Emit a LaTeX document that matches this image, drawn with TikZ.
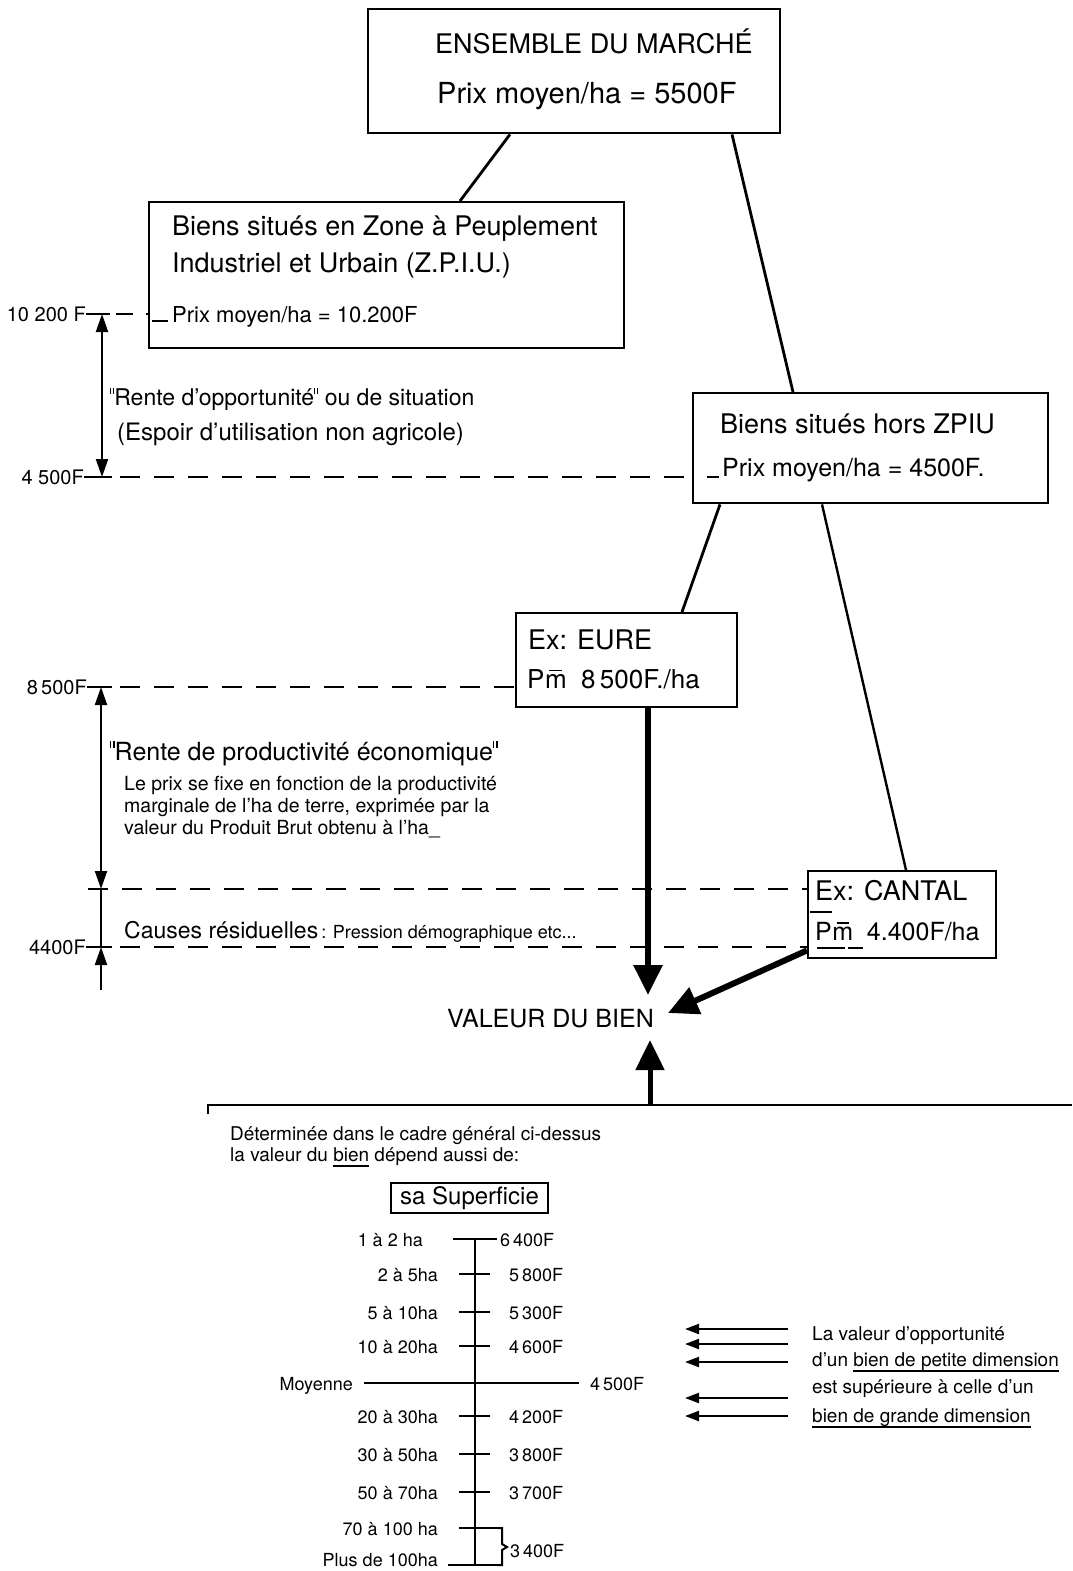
\documentclass[tikz,border=0pt]{standalone}
\usepackage{fontspec}
\setmainfont{TeX Gyre Heros}
\usetikzlibrary{arrows.meta,calc}
\newcommand\fsz[1]{\fontsize{#1}{#1}\selectfont}
\newcommand\Pmbar{P\kern0.5pt\ooalign{m\cr\hidewidth\rule[0.64em]{0.5em}{0.07em}\hidewidth\cr}}
\newcommand\ulin[1]{\setbox0\hbox{#1}\rlap{\rule[-0.3em]{\wd0}{1.4pt}}\box0\relax}
\newcommand\dq{\rule[0.5em]{0.05em}{0.26em}\kern0.08em\rule[0.5em]{0.05em}{0.26em}}
\begin{document}
\begin{tikzpicture}[x=1pt,y=-1pt,
  box/.style={draw, line width=2.4pt, inner sep=0, anchor=north west},
  txt/.style={anchor=base west, inner sep=0},
  rtxt/.style={anchor=base east, inner sep=0},
  lab/.style={anchor=east, inner sep=0, font=\fsz{20}},
  conn/.style={line width=2.8pt},
  thin/.style={line width=2pt},
  dashline/.style={line width=1.8pt, dash pattern=on 20pt off 14pt},
  dim/.style={line width=2pt, {Triangle[length=18pt,width=12pt]}-{Triangle[length=18pt,width=12pt]}},
  upar/.style={line width=2pt, -{Triangle[length=18pt,width=12pt]}},
  big/.style={line width=6pt, -{Triangle[length=30pt,width=28pt]}},
  small/.style={line width=2.2pt, -{Triangle[length=14pt,width=10pt]}},
  tick/.style={line width=2.2pt}
]
\fill[white] (0,0) rectangle (1072,1571);
\useasboundingbox (0,0) rectangle (1072,1571);

% ---------- boxes ----------
\node[box, minimum width=412pt, minimum height=124pt] (top) at (367,8) {};
\node[box, minimum width=475pt, minimum height=146pt] (zpiu) at (148,201) {};
\node[box, minimum width=355pt, minimum height=110pt] (hors) at (692,392) {};
\node[box, minimum width=221pt, minimum height=94pt] (eure) at (515,612) {};
\node[box, minimum width=188pt, minimum height=87pt] (cantal) at (807,870) {};

% ---------- box texts ----------
\node[txt, font=\fsz{27}] (t1) at (435,53) {ENSEMBLE DU MARCHÉ};
\node[txt, font=\fsz{29}] (t2) at (437,103) {Prix moyen/ha = 5500F};
\node[txt, font=\fsz{27}] (z1) at (172,235) {Biens situés en Zone à Peuplement};
\node[txt, font=\fsz{27}] (z2) at (172,272) {Industriel et Urbain (Z.P.I.U.)};
\node[txt, font=\fsz{22}] (z3) at (172,322) {Prix moyen/ha = 10.200F};
\node[txt, font=\fsz{27}] (h1) at (720,433) {Biens situés hors ZPIU};
\node[txt, font=\fsz{25}] (h2) at (722,476) {Prix moyen/ha = 4500F.};
\node[txt, font=\fsz{27}] (e1) at (528,649) {Ex: EURE};
\node[txt, font=\fsz{26}] (e2) at (527,688) {\Pmbar\ \ 8\,500F./ha};
\node[txt, font=\fsz{27}] (c1) at (815,900) {Ex: CANTAL};
\node[txt, font=\fsz{25}] (c2) at (815,940) {\Pmbar\hspace{0.55em}4.400F/ha};

% ---------- connectors ----------
\draw[conn] ($(top.south west)+(143,0)$) -- ($(zpiu.north west)+(312,0)$);
\draw[conn] ($(top.south west)+(365,0)$) -- ($(hors.north west)+(101,0)$);
\draw[conn] ($(hors.south west)+(28,0)$) -- ($(eure.north west)+(167,0)$);
\draw[line width=2.4pt] ($(hors.south west)+(130,0)$) -- ($(cantal.north west)+(99,0)$);

% ---------- axis 1 ----------
\node[lab] (a1) at (86,314) {10 200 F};
\node[lab] (a2) at (84,477) {4 500F};
\draw[dim] (102,314) -- (102,477);
\draw[thin, dash pattern=on 24pt off 6pt on 17pt off 13pt] (a1.east) -- (a1.east -| zpiu.west);
\draw[thin] (152,321) -- (168,321);
\draw[tick] (a2.east) -- (112,477);
\draw[dashline] (120,477) -- (a2.east -| hors.west);
\draw[thin] (707,477) -- (719,477);
\node[txt, font=\fsz{23}] (r1) at (110,405) {\dq Rente d'opportunité\dq\ ou de situation};
\node[txt, font=\fsz{24}] (r2) at (117,440) {(Espoir d'utilisation non agricole)};

% ---------- axis 2 ----------
\node[lab] (a3) at (87,687) {8\,500F};
\node[lab] (a4) at (86,947) {4400F};
\coordinate (l889) at (88,889);
\draw[dim] (101,687) -- (101,889);
\draw[thin] (101,889) -- (101,947);
\draw[upar] (101,990) -- (101,947);
\draw[tick] (a3.east) -- (112,687);
\draw[dashline] (120,687) -- ($(a3.east -| eure.west)+(7,0)$);
\draw[dashline] (l889) -- (l889 -| cantal.west);
\draw[tick] (a4.east) -- (112,947);
\draw[dashline] (120,947) -- (a4.east -| cantal.west);
\draw[thin] (817,948) -- (845,948);
\draw[thin] (848,948) -- (863,948);
\draw[thin] (810,912) -- (832,912);
\node[txt, font=\fsz{25}] (p1) at (110,760) {\dq Rente de productivité économique\dq};
\node[txt, font=\fsz{19.5}] (p2) at (124,790) {Le prix se fixe en fonction de la productivité};
\node[txt, font=\fsz{19.5}] (p3) at (124,812) {marginale de l'ha de terre, exprimée par la};
\node[txt, font=\fsz{19.5}] (p4) at (124,834) {valeur du Produit Brut obtenu à l'ha\_};
\node[txt, font=\fsz{23}] (p5) at (124,938) {Causes résiduelles{\fsz{18}\,: Pression démographique etc...}};

% ---------- valeur du bien ----------
\node[txt, font=\fsz{25}] (val) at (447,1027) {VALEUR DU BIEN};
\coordinate (v1) at (648,995);
\coordinate (v2) at (668,1013);
\coordinate (v3) at (650,1040);
\coordinate (frameup) at (650,1105);
\draw[big] ($(eure.south west)+(133,0)$) -- (v1);
\draw[big] ($(cantal.south west)+(0,-9)$) -- (v2);
\draw[big, line width=5pt] (frameup) -- (v3);

% ---------- bottom frame ----------
\draw[line width=2.4pt] (208,1114) -- (208,1105) -- (1072,1105);
\node[txt, font=\fsz{19}] (b1) at (230,1140) {Déterminée dans le cadre général ci-dessus};
\node[txt, font=\fsz{19}] (b2) at (230,1161) {la valeur du \ulin{bien} dépend aussi de:};
\node[box, line width=2pt, minimum width=157pt, minimum height=30pt, font=\fsz{24}] (sup) at (390,1182) {sa Superficie};

% ---------- scale ----------
\draw[line width=2.2pt] (475,1239) -- (475,1565);
\draw[tick] (453,1239) -- (497,1239);
\foreach \yy in {1274,1312,1346,1416,1454,1492} {\draw[tick] (459,\yy) -- (490,\yy);}
\draw[tick] (459,1528) -- (497,1528);
\draw[line width=2.4pt] (364,1383) -- (579,1383);
\draw[tick] (448,1565) -- (497,1565);
\draw[thin] (497,1528) -- (502,1528) -- (502,1544) -- (507,1547) -- (502,1550) -- (502,1565) -- (497,1565);

\node[rtxt, font=\fsz{18}] (s1) at (423,1246) {1 à 2 ha};
\node[rtxt, font=\fsz{18}] (s2) at (438,1281) {2 à 5ha};
\node[rtxt, font=\fsz{18}] (s3) at (438,1319) {5 à 10ha};
\node[rtxt, font=\fsz{18}] (s4) at (438,1353) {10 à 20ha};
\node[rtxt, font=\fsz{18}] (s5) at (353,1390) {Moyenne};
\node[rtxt, font=\fsz{18}] (s6) at (438,1423) {20 à 30ha};
\node[rtxt, font=\fsz{18}] (s7) at (438,1461) {30 à 50ha};
\node[rtxt, font=\fsz{18}] (s8) at (438,1499) {50 à 70ha};
\node[rtxt, font=\fsz{18}] (s9) at (438,1535) {70 à 100 ha};
\node[rtxt, font=\fsz{18}] (s10) at (438,1566) {Plus de 100ha};

\node[txt, font=\fsz{18}] (v6400) at (500,1246) {6\,400F};
\node[txt, font=\fsz{18}] (v5800) at (509,1281) {5\,800F};
\node[txt, font=\fsz{18}] (v5300) at (509,1319) {5\,300F};
\node[txt, font=\fsz{18}] (v4600) at (509,1353) {4\,600F};
\node[txt, font=\fsz{18}] (v4500) at (590,1390) {4\,500F};
\node[txt, font=\fsz{18}] (v4200) at (509,1423) {4\,200F};
\node[txt, font=\fsz{18}] (v3800) at (509,1461) {3\,800F};
\node[txt, font=\fsz{18}] (v3700) at (509,1499) {3\,700F};
\node[txt, font=\fsz{18}] (v3400) at (510,1557) {3\,400F};

% ---------- right arrows and note ----------
\foreach \yy in {1329,1344,1362,1398,1416} {\draw[small] (788,\yy) -- (685,\yy);}
\node[txt, font=\fsz{19}] (n1) at (812,1340) {La valeur d'opportunité};
\node[txt, font=\fsz{19}] (n2) at (812,1366) {d'un \ulin{bien de petite dimension}};
\node[txt, font=\fsz{19}] (n3) at (812,1393) {est supérieure à celle d'un};
\node[txt, font=\fsz{19}] (n4) at (812,1422) {\ulin{bien de grande dimension}};
\end{tikzpicture}
\end{document}
